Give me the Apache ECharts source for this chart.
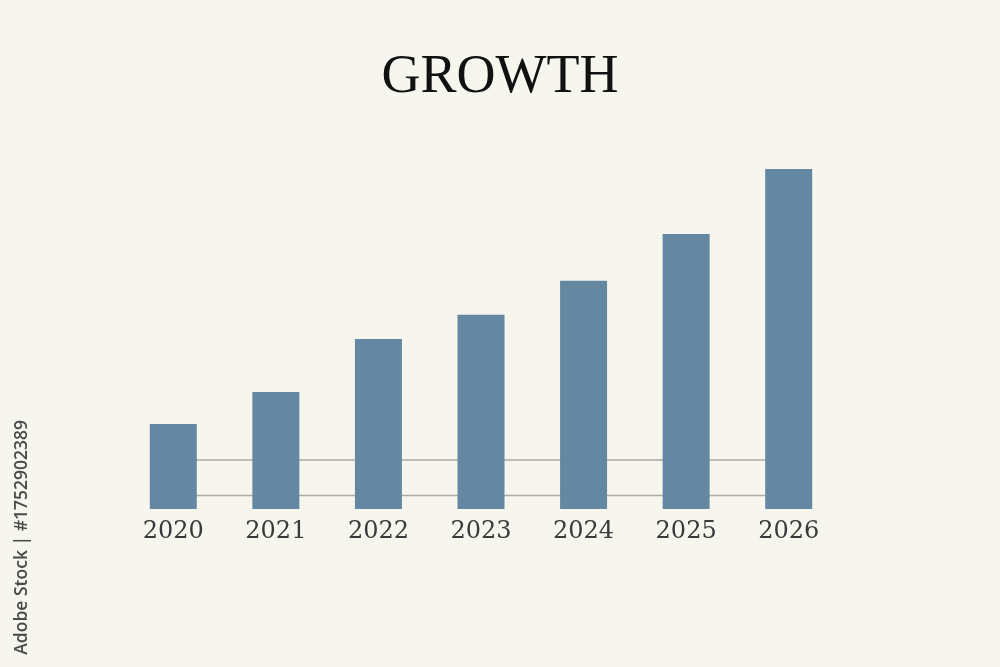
<!DOCTYPE html>
<html>
<head>
<meta charset="utf-8">
<script src="https://cdn.jsdelivr.net/npm/echarts@6/dist/echarts.min.js"></script>
<style>
html,body{margin:0;padding:0;background:#f6f5ee;}
#chart{width:1000px;height:667px;}
</style>
</head>
<body>
<div id="chart"></div>
<script>
var years = ['2020', '2021', '2022', '2023', '2024', '2025', '2026'];
var growthValues = [25, 34.4, 50, 57.1, 67.1, 80.9, 100];
var guideLevelUpper = [14.4, 14.4, 14.4, 14.4, 14.4, 14.4, 14.4];
var guideLevelLower = [4.0, 4.0, 4.0, 4.0, 4.0, 4.0, 4.0];

var chart = echarts.init(document.getElementById('chart'), null, {renderer: 'canvas'});
var guideStyle = {color: '#abaaa3', width: 1.5};
chart.setOption({
  backgroundColor: '#f6f5ee',
  animation: false,
  title: {
    text: 'GROWTH',
    left: 'center',
    top: 46,
    textStyle: {fontFamily: 'Liberation Serif', fontSize: 54, fontWeight: 'normal', color: '#111111'}
  },
  graphic: [{
    type: 'text',
    left: 13,
    top: 420,
    rotation: Math.PI / 2,
    style: {text: 'Adobe Stock | #1752902389', fontFamily: 'Open Sans', fontSize: 17.5, fontWeight: 600, fill: '#4a4a4a'}
  }],
  grid: {left: 122, right: 160, top: 169, bottom: 158},
  xAxis: {
    type: 'category',
    data: years,
    axisLine: {show: false},
    axisTick: {show: false},
    axisLabel: {fontFamily: 'DejaVu Serif', fontSize: 24, color: '#3a3a3a', margin: 11}
  },
  yAxis: {
    type: 'value',
    min: 0,
    max: 100,
    show: false,
    splitLine: {show: false}
  },
  series: [
    {type: 'line', data: guideLevelUpper, symbol: 'none', lineStyle: guideStyle, z: 1, silent: true},
    {type: 'line', data: guideLevelLower, symbol: 'none', lineStyle: guideStyle, z: 1, silent: true},
    {type: 'bar', data: growthValues, barWidth: 47, itemStyle: {color: '#6488a2'}, z: 3}
  ]
});
</script>
</body>
</html>
